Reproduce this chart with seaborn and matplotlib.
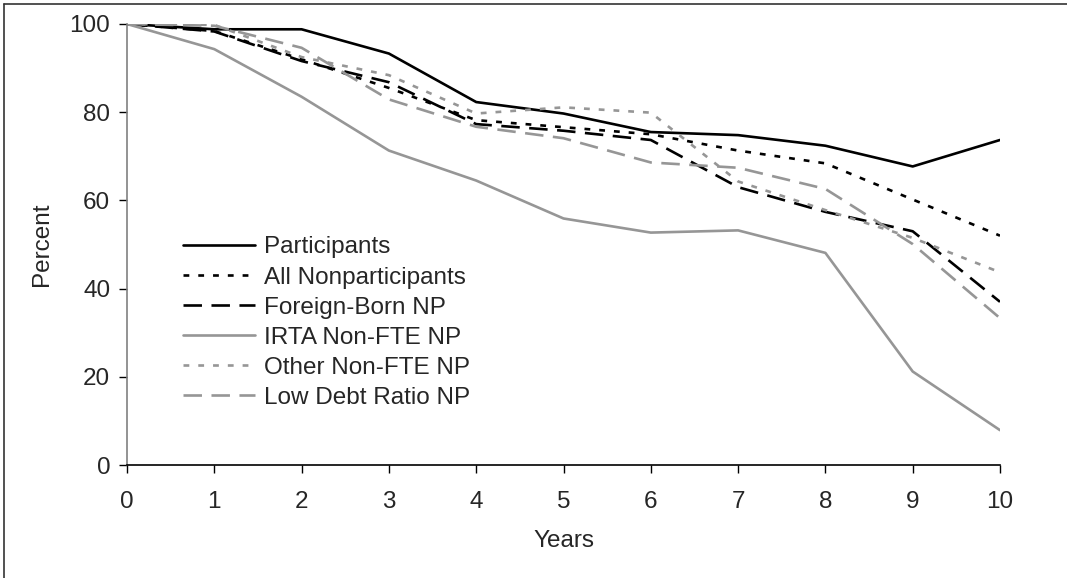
import numpy as np
import pandas as pd
import matplotlib
matplotlib.use("Agg")
import matplotlib.pyplot as plt
import seaborn as sns
from matplotlib.lines import Line2D

# Data
years = [0, 1, 2, 3, 4, 5, 6, 7, 8, 9, 10]
participants = [100, 98.8, 98.8, 93.3, 82.3, 79.7, 75.5, 74.8, 72.4, 67.7, 73.7]
all_nonpart = [100, 98.4, 92.0, 85.5, 78.2, 76.6, 75.0, 71.3, 68.4, 60.2, 52.0]
foreign_born = [100, 98.3, 91.6, 86.8, 77.3, 75.8, 73.7, 63.0, 57.4, 53.0, 37.0]
irta_nonfte = [100, 94.3, 83.5, 71.3, 64.5, 55.9, 52.7, 53.2, 48.1, 21.2, 7.9]
other_nonfte = [100, 99.8, 92.5, 88.4, 79.7, 81.1, 79.9, 64.3, 57.8, 51.5, 43.7]
low_debt = [100, 99.6, 94.6, 82.9, 76.7, 74.1, 68.6, 67.4, 62.6, 50.1, 33.3]

series_names = ["Participants", "All Nonparticipants", "Foreign-Born NP",
                "IRTA Non-FTE NP", "Other Non-FTE NP", "Low Debt Ratio NP"]
series_values = [participants, all_nonpart, foreign_born,
                 irta_nonfte, other_nonfte, low_debt]

# Long-form frame for seaborn
df = pd.DataFrame({
    "Years": np.tile(years, len(series_names)),
    "Percent": np.concatenate(series_values),
    "group": np.repeat(series_names, len(years)),
})

grey = "#969696"
palette = {
    "Participants": "black",
    "All Nonparticipants": "black",
    "Foreign-Born NP": "black",
    "IRTA Non-FTE NP": grey,
    "Other Non-FTE NP": grey,
    "Low Debt Ratio NP": grey,
}
dashes = {
    "Participants": "",
    "All Nonparticipants": (2.2, 3.4),
    "Foreign-Born NP": (7, 3.6),
    "IRTA Non-FTE NP": "",
    "Other Non-FTE NP": (2.2, 3.4),
    "Low Debt Ratio NP": (7, 3.6),
}

sns.set_theme(style="ticks")
plt.rcParams["font.family"] = ["Liberation Sans", "DejaVu Sans"]

fs = 17.5

fig = plt.figure(figsize=(10.67, 5.78), dpi=100)
ax = fig.add_axes([127 / 1067, 1 - 465 / 578, 873 / 1067, 441 / 578])

sns.lineplot(data=df, x="Years", y="Percent", hue="group", style="group",
             hue_order=series_names, style_order=series_names,
             palette=palette, dashes=dashes, linewidth=1.9, ax=ax)

ax.set_xlim(0, 10)
ax.set_ylim(0, 100)
ax.set_xticks(years)
ax.set_yticks([0, 20, 40, 60, 80, 100])
ax.tick_params(axis="both", labelsize=fs, length=6, width=1, color="black",
               direction="out")
ax.tick_params(axis="x", pad=13)
ax.tick_params(axis="y", pad=6)
ax.set_xlabel("Years", fontsize=fs, labelpad=12)
ax.set_ylabel("Percent", fontsize=fs, labelpad=12)
for side in ["top", "right"]:
    ax.spines[side].set_visible(False)
for side in ["left", "bottom"]:
    ax.spines[side].set_color("black")
    ax.spines[side].set_linewidth(1.2)
ax.spines["left"].set_color("#808080")

# Legend without frame, left-middle of the plot
handles, labels = ax.get_legend_handles_labels()
leg = ax.legend(handles, labels, loc="center left",
                bbox_to_anchor=(0.064, 0.323), frameon=False,
                fontsize=fs, handlelength=2.95, handletextpad=0.4,
                labelspacing=0.33, borderpad=0, borderaxespad=0)
for h in leg.get_lines():
    h.set_linewidth(1.9)

# Outer chart border (top and left edges visible)
fig.add_artist(Line2D([4 / 1067, 1], [1 - 4 / 578, 1 - 4 / 578],
                      transform=fig.transFigure, color="#333333", lw=1.2))
fig.add_artist(Line2D([4 / 1067, 4 / 1067], [0, 1 - 4 / 578],
                      transform=fig.transFigure, color="#333333", lw=1.2))

fig.savefig("out.png", dpi=100)
